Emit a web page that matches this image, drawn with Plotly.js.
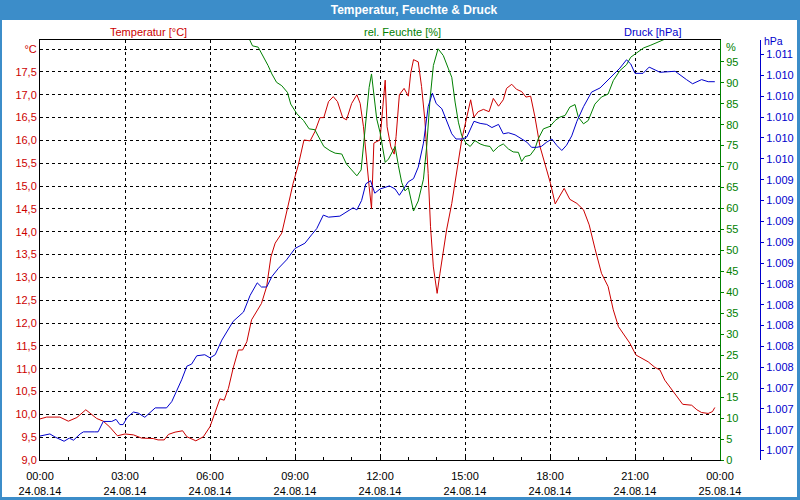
<!DOCTYPE html>
<html><head><meta charset="utf-8">
<script src="https://cdn.plot.ly/plotly-3.0.1.min.js"></script>
<style>
html,body{margin:0;padding:0;background:#fff;}
#frame{position:absolute;left:0;top:0;width:800px;height:500px;background:#3c8dc9;}
#inner{position:absolute;left:2px;top:20px;width:795px;height:477px;background:#fff;}
#chart{position:absolute;left:0;top:0;width:800px;height:500px;}
</style></head><body>
<div id="frame"><div id="inner"></div></div>
<div id="chart"></div>
<script>
// time in minutes after 00:00 24.08.14
const tempMin = [0,14,42,60,78,97,120,134,148,164,180,198,215,240,250,263,272,286,302,311,330,346,360,371,381,390,399,409,420,429,438,448,459,469,480,489,498,512,524,536,547,559,572,582,593,601,611,621,630,641,649,660,671,678,685,692,697,702,707,712,720,726,731,735,743,750,754,761,771,780,785,791,801,808,815,822,827,833,841,847,854,861,872,882,893,904,912,919,928,939,951,960,971,981,988,999,1009,1020,1029,1039,1048,1059,1072,1081,1091,1101,1110,1122,1137,1151,1163,1175,1189,1203,1214,1225,1239,1249,1262,1274,1288,1302,1313,1323,1338,1348,1361,1380,1391,1401,1415,1424,1429];
const tempVal = [9.90,9.94,9.94,9.85,9.93,10.10,9.91,9.85,9.72,9.53,9.57,9.55,9.48,9.47,9.44,9.44,9.56,9.61,9.64,9.51,9.42,9.51,9.73,10.05,10.34,10.31,10.57,11.01,11.41,11.41,11.59,12.07,12.25,12.43,12.80,13.45,13.75,13.97,14.51,15.06,15.46,16.01,15.99,16.19,16.50,16.50,16.85,16.96,16.85,16.50,16.45,16.81,17.00,16.81,16.30,15.42,14.99,14.51,15.94,15.97,16.01,16.74,17.32,16.30,15.86,15.70,16.08,17.00,17.14,16.97,17.47,17.77,17.72,17.18,16.45,15.28,14.11,13.23,12.65,13.09,13.53,14.04,14.62,15.28,16.01,16.52,16.89,16.51,16.63,16.68,16.63,16.92,16.75,16.89,17.14,17.23,17.12,17.07,16.95,16.97,16.52,15.86,15.39,15.06,14.61,14.80,14.95,14.71,14.62,14.48,14.15,13.64,13.09,12.80,12.29,11.92,11.70,11.56,11.30,11.23,11.15,11.03,10.97,10.75,10.53,10.39,10.22,10.20,10.10,10.04,10.02,10.06,10.15];

const humMin = [0,420,443,450,462,472,483,491,501,512,524,531,544,558,570,582,593,601,614,625,639,649,660,671,680,686,692,697,702,707,713,720,726,731,738,745,752,759,766,773,780,791,801,812,819,826,833,843,854,865,872,879,886,893,902,911,921,932,942,953,960,971,981,992,1002,1013,1020,1027,1038,1048,1055,1066,1080,1091,1101,1112,1122,1133,1140,1151,1161,1175,1189,1203,1214,1228,1242,1251,1264,1278,1292,1313,1326,1340,1429];
const humVal = [103,103,100.5,98.8,98.5,96.5,94.1,92.1,90.1,89.3,87.7,84.9,82.6,81.0,79.0,78.8,76.6,74.8,73.8,73.2,73.0,70.6,69.2,67.8,69.2,76.6,83.0,88.9,92.1,86.9,81.4,78.2,74.6,71.0,71.8,73.4,74.8,70.2,66.2,64.2,65.0,59.4,61.8,67.0,75.0,86.1,94.1,98.1,96.5,93.3,91.3,85.4,80.6,77.4,75.6,74.8,76.2,75.4,75.0,74.8,73.6,74.8,75.4,74.2,73.5,73.4,71.2,72.4,72.7,74.2,76.6,79.0,79.6,81.0,81.8,82.2,84.2,84.8,81.8,80.2,81.0,84.9,86.6,87.3,90.5,92.9,94.3,96.1,97.1,98.3,98.9,99.9,100.5,101.2,102];

const presMin = [0,21,32,51,62,71,85,92,116,123,134,141,152,161,169,176,185,198,208,222,233,244,268,279,289,300,311,321,332,349,360,371,385,399,409,431,445,460,469,480,491,505,522,540,561,575,586,600,611,635,649,663,671,681,690,700,709,720,740,752,761,769,780,791,801,812,822,831,839,851,861,872,881,895,904,911,919,932,946,957,971,981,992,1006,1020,1031,1041,1052,1062,1073,1084,1094,1105,1115,1126,1137,1151,1168,1186,1207,1228,1242,1251,1260,1277,1290,1302,1313,1345,1355,1369,1382,1401,1415,1429];
const presVal = [1006.84,1006.86,1006.83,1006.79,1006.82,1006.80,1006.86,1006.88,1006.88,1006.88,1006.98,1006.98,1006.98,1007.00,1006.95,1006.95,1007.02,1007.07,1007.06,1007.02,1007.07,1007.11,1007.11,1007.17,1007.27,1007.38,1007.51,1007.53,1007.61,1007.62,1007.59,1007.62,1007.76,1007.86,1007.94,1008.03,1008.19,1008.31,1008.27,1008.27,1008.37,1008.45,1008.53,1008.64,1008.69,1008.77,1008.83,1008.96,1008.94,1008.95,1008.99,1009.03,1009.01,1009.10,1009.26,1009.29,1009.17,1009.21,1009.24,1009.21,1009.15,1009.20,1009.28,1009.31,1009.42,1009.65,1010.00,1010.13,1010.03,1009.98,1009.87,1009.74,1009.69,1009.69,1009.71,1009.78,1009.86,1009.84,1009.83,1009.80,1009.83,1009.74,1009.75,1009.73,1009.69,1009.66,1009.61,1009.61,1009.62,1009.66,1009.69,1009.63,1009.58,1009.63,1009.72,1009.86,1010.00,1010.14,1010.18,1010.27,1010.37,1010.45,1010.41,1010.32,1010.32,1010.38,1010.35,1010.33,1010.34,1010.31,1010.26,1010.22,1010.26,1010.24,1010.24];

const xTickVals = [0,180,360,540,720,900,1080,1260,1440];
const xTickText = ['00:00<br>24.08.14','03:00<br>24.08.14','06:00<br>24.08.14','09:00<br>24.08.14','12:00<br>24.08.14','15:00<br>24.08.14','18:00<br>24.08.14','21:00<br>24.08.14','00:00<br>25.08.14'];

const tempTicks = [9.0,9.5,10.0,10.5,11.0,11.5,12.0,12.5,13.0,13.5,14.0,14.5,15.0,15.5,16.0,16.5,17.0,17.5,18.0];
const tempTickText = ['9,0','9,5','10,0','10,5','11,0','11,5','12,0','12,5','13,0','13,5','14,0','14,5','15,0','15,5','16,0','16,5','17,0','17,5','°C'];

const humTicks = [0,5,10,15,20,25,30,35,40,45,50,55,60,65,70,75,80,85,90,95];
const humTickText = ['0','5','10','15','20','25','30','35','40','45','50','55','60','65','70','75','80','85','90','95'];

const presTicks = [1006.7,1006.9,1007.1,1007.3,1007.5,1007.7,1007.9,1008.1,1008.3,1008.5,1008.7,1008.9,1009.1,1009.3,1009.5,1009.7,1009.9,1010.1,1010.3,1010.5];
const presTickText = ['1.007','1.007','1.007','1.007','1.008','1.008','1.008','1.008','1.008','1.009','1.009','1.009','1.009','1.009','1.010','1.010','1.010','1.010','1.010','1.011'];

const RED = '#cc0000', GREEN = '#008000', BLUE = '#0000cc';
const FONT = 'Liberation Sans, Arial, sans-serif';

const traces = [
  {x: tempMin, y: tempVal, type: 'scatter', mode: 'lines', yaxis: 'y', line: {color: RED, width: 1}, hoverinfo: 'skip'},
  {x: humMin, y: humVal, type: 'scatter', mode: 'lines', yaxis: 'y2', line: {color: GREEN, width: 1}, hoverinfo: 'skip'},
  {x: presMin, y: presVal, type: 'scatter', mode: 'lines', yaxis: 'y3', line: {color: BLUE, width: 1}, hoverinfo: 'skip'}
];

const px2x = p => (p - 40) / 720;
const py2y = p => (460 - p) / 420;

const layout = {
  width: 800, height: 500,
  margin: {l: 40, r: 40, t: 40, b: 40, pad: 0},
  paper_bgcolor: 'rgba(0,0,0,0)', plot_bgcolor: 'rgba(0,0,0,0)',
  showlegend: false,
  font: {family: FONT, size: 11, color: '#000'},
  title: {text: '<b>Temperatur, Feuchte & Druck</b>', font: {family: FONT, size: 12, color: '#fff'},
          x: 414/800, xref: 'container', xanchor: 'center', y: 1 - 10/500, yref: 'container', yanchor: 'middle'},
  xaxis: {domain: [0, 680/720], range: [0, 1440], tickmode: 'array', tickvals: xTickVals, ticktext: xTickText,
          showgrid: true, gridcolor: '#000', griddash: '3px,3px', gridwidth: 1,
          showline: true, linecolor: '#000', linewidth: 1, mirror: true,
          ticks: 'inside', ticklen: 3, tickcolor: '#000', ticklabelstandoff: 6,
          minor: {dtick: 60, tick0: 0, ticks: 'inside', ticklen: 3, tickcolor: '#000', showgrid: false},
          zeroline: false, tickfont: {family: FONT, size: 11, color: '#000'}, fixedrange: true},
  yaxis: {range: [9, 18.2], tickmode: 'array', tickvals: tempTicks, ticktext: tempTickText,
          showgrid: true, gridcolor: '#000', griddash: '3px,3px', gridwidth: 1,
          showline: true, linecolor: '#000', linewidth: 1, ticks: '', zeroline: false,
          tickfont: {family: FONT, size: 11, color: RED}, fixedrange: true},
  yaxis2: {overlaying: 'y', side: 'right', anchor: 'x', range: [0, 100.2], tickmode: 'array',
           tickvals: humTicks, ticktext: humTickText, showgrid: false, zeroline: false,
           showline: true, linecolor: GREEN, linewidth: 1, ticks: 'outside', ticklen: 3, tickcolor: GREEN,
           tickfont: {family: FONT, size: 11, color: GREEN}, fixedrange: true},
  yaxis3: {overlaying: 'y', side: 'right', anchor: 'free', position: 1, range: [1006.61, 1010.64], tickmode: 'array',
           tickvals: presTicks, ticktext: presTickText, showgrid: false, zeroline: false,
           showline: true, linecolor: BLUE, linewidth: 1, ticks: 'outside', ticklen: 3, tickcolor: BLUE,
           tickfont: {family: FONT, size: 11, color: BLUE}, fixedrange: true},
  annotations: [
    {text: 'Temperatur [°C]', x: px2x(148), y: py2y(32), xref: 'paper', yref: 'paper', showarrow: false, xanchor: 'center', yanchor: 'middle', font: {family: FONT, size: 11, color: RED}},
    {text: 'rel. Feuchte [%]', x: px2x(402), y: py2y(32), xref: 'paper', yref: 'paper', showarrow: false, xanchor: 'center', yanchor: 'middle', font: {family: FONT, size: 11, color: GREEN}},
    {text: 'Druck [hPa]', x: px2x(652), y: py2y(32), xref: 'paper', yref: 'paper', showarrow: false, xanchor: 'center', yanchor: 'middle', font: {family: FONT, size: 11, color: BLUE}},
    {text: '%', x: px2x(724), y: py2y(47), xref: 'paper', yref: 'paper', showarrow: false, xanchor: 'left', yanchor: 'middle', font: {family: FONT, size: 11, color: GREEN}},
    {text: 'hPa', x: px2x(763), y: py2y(41.5), xref: 'paper', yref: 'paper', showarrow: false, xanchor: 'left', yanchor: 'middle', borderpad: 0, font: {family: FONT, size: 10.5, color: BLUE}}
  ]
};

Plotly.newPlot('chart', traces, layout, {staticPlot: true, displayModeBar: false});
</script></body></html>
